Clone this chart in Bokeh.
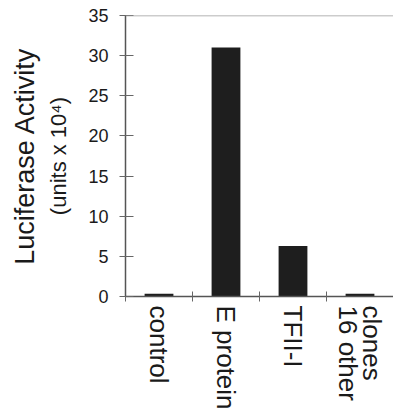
from bokeh.plotting import figure
from bokeh.models import Range1d, FixedTicker, LinearAxis, Span
from bokeh.embed import file_html
from bokeh.resources import INLINE

categories = ["control", "E protein", "TFII-I", "clones\n16 other"]
values = [0.35, 31.0, 6.3, 0.35]
y_ticks = [0, 5, 10, 15, 20, 25, 30, 35]
y_label_outer = "Luciferase Activity"
y_label_inner = "(units x 10\u2074)"

FONT = "Liberation Sans"
n = len(categories)
xpos = [i + 0.5 for i in range(n)]

p = figure(width=393, height=412, output_backend="svg", toolbar_location=None,
           x_range=Range1d(0, n), y_range=Range1d(y_ticks[0], y_ticks[-1]),
           min_border_left=125, min_border_right=0, min_border_top=15, min_border_bottom=114)
p.outline_line_color = None
p.xgrid.visible = False
p.ygrid.visible = False

p.vbar(x=xpos, top=values, width=0.43, fill_color="#1e1e1e", line_color=None)

# top boundary line
p.add_layout(Span(location=y_ticks[-1], dimension="width", line_color="#9a9a9a", line_width=1.5))

xa = p.xaxis[0]
xa.ticker = FixedTicker(ticks=xpos, minor_ticks=list(range(n + 1)))
xa.major_label_overrides = {x: c for x, c in zip(xpos, categories)}
xa.major_label_orientation = "vertical"
xa.major_tick_in = 0
xa.major_tick_out = 0
xa.minor_tick_in = 5
xa.minor_tick_out = 5
xa.minor_tick_line_color = "#666666"
xa.axis_line_color = "#555555"
xa.axis_line_width = 1.5
xa.major_label_text_font = FONT
xa.major_label_text_font_size = "26px"
xa.major_label_text_line_height = 0.8
xa.major_label_text_color = "#1a1a1a"
xa.major_label_standoff = 4

ya = p.yaxis[0]
ya.ticker = FixedTicker(ticks=y_ticks)
ya.major_tick_in = 8
ya.major_tick_out = 6
ya.major_tick_line_color = "#666666"
ya.minor_tick_line_color = None
ya.axis_line_color = "#555555"
ya.axis_line_width = 1.5
ya.major_label_text_font = FONT
ya.major_label_text_font_size = "18px"
ya.major_label_text_color = "#1a1a1a"
ya.major_label_standoff = 11
ya.axis_label = y_label_inner
ya.axis_label_text_font = FONT
ya.axis_label_text_font_size = "22px"
ya.axis_label_text_font_style = "normal"
ya.axis_label_text_color = "#1a1a1a"
ya.axis_label_standoff = 14

outer = LinearAxis(ticker=FixedTicker(ticks=[]), axis_line_color=None,
                   major_tick_line_color=None, minor_tick_line_color=None,
                   axis_label=y_label_outer, axis_label_text_font=FONT,
                   axis_label_text_font_size="27px", axis_label_text_font_style="normal",
                   axis_label_text_color="#1a1a1a", axis_label_standoff=4)
p.add_layout(outer, "left")

open("out.html", "w").write(file_html(p, INLINE))
